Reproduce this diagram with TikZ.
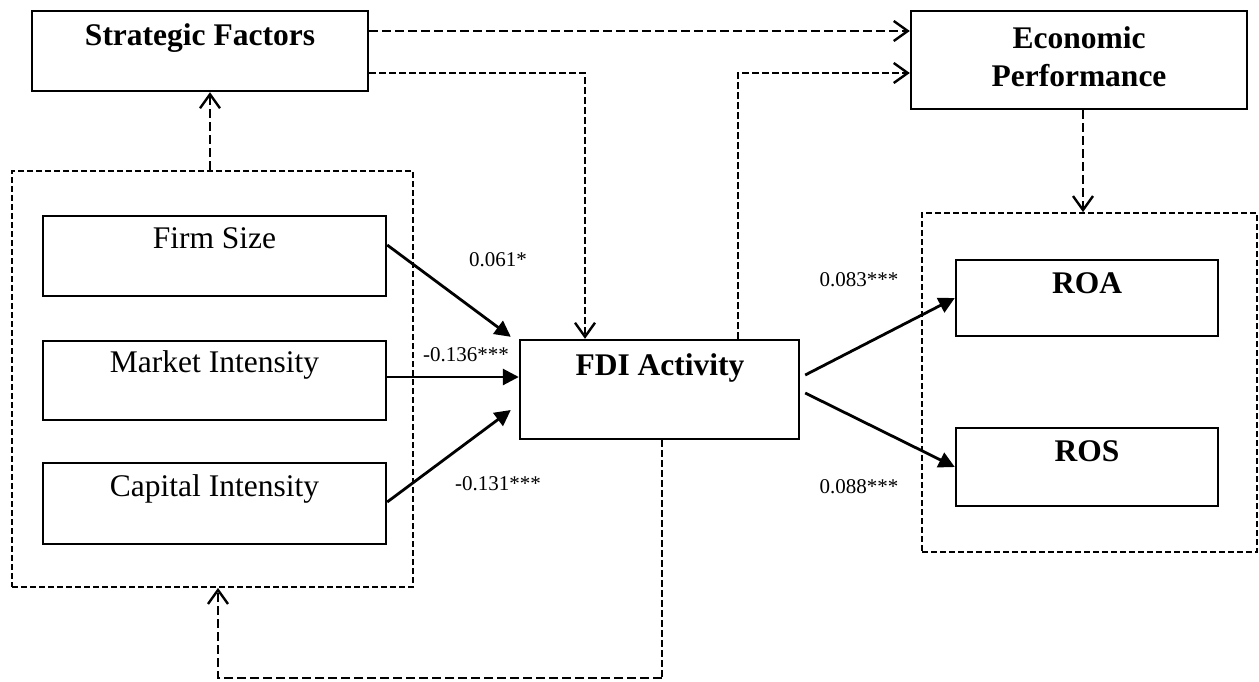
\documentclass[tikz,border=0pt]{standalone}
\usepackage{fontspec}
\setmainfont{Liberation Serif}
\usetikzlibrary{arrows.meta,calc}
\begin{document}
\begin{tikzpicture}[x=1pt,y=-1pt,
 box/.style={draw,line width=2.4pt,inner sep=0pt},
 grp/.style={draw,line width=1.8pt,dash pattern=on 6pt off 3pt,inner sep=0pt},
 txt/.style={font=\fontsize{31.5}{38}\selectfont,text height=0.66em,text depth=0pt,inner sep=0pt},
 btxt/.style={txt,font=\fontsize{31.5}{38}\selectfont\bfseries},
 lbl/.style={font=\fontsize{21}{24}\selectfont,inner sep=0pt,text height=0.66em,text depth=0pt},
 sarr/.style={line width=2.8pt,-{Triangle[length=16pt,width=16pt]}},
 darr/.style={line width=2.4pt,dash pattern=on 9pt off 4pt,-{Straight Barb[length=14pt,width=20pt,line width=2.4pt]}},
 tarr/.style={line width=1.9pt,dash pattern=on 7pt off 3pt,-{Straight Barb[length=14pt,width=20pt,line width=2.4pt]}},
 tline/.style={line width=1.9pt,dash pattern=on 7pt off 3pt},
]
\useasboundingbox (0,0) rectangle (1259,681);

% level coordinates
\coordinate (r31) at (0,31);
\coordinate (r73) at (0,73);
\coordinate (r377) at (0,377);
\coordinate (r678) at (0,678);
\coordinate (c210) at (210,0);
\coordinate (c218) at (218,0);
\coordinate (c585) at (585,0);
\coordinate (c662) at (662,0);
\coordinate (c738) at (738,0);
\coordinate (c1083) at (1083,0);

% group boxes
\node[grp,minimum width=401pt,minimum height=416pt] (lg) at (212.5,379) {};
\node[grp,minimum width=335pt,minimum height=339pt] (rg) at (1089.5,382.5) {};

% boxes
\node[box,minimum width=336pt,minimum height=80pt] (sf) at (200,51) {};
\node[box,minimum width=336pt,minimum height=98pt] (ep) at (1079,60) {};
\node[box,minimum width=279pt,minimum height=99pt] (fdi) at (659.5,389.5) {};
\node[box,minimum width=262pt,minimum height=76pt] (roa) at (1087,298) {};
\node[box,minimum width=262pt,minimum height=78pt] (ros) at (1087,467) {};
\node[box,minimum width=343pt,minimum height=80pt] (fs) at (214.5,256) {};
\node[box,minimum width=343pt,minimum height=79pt] (mi) at (214.5,380.5) {};
\node[box,minimum width=343pt,minimum height=81pt] (ci) at (214.5,503.5) {};

% texts
\node[btxt] (sft) at (200,42) {Strategic Factors};
\node[btxt] (ept1) at (1079,45) {Economic};
\node[btxt] (ept2) at (1079,83) {Performance};
\node[btxt] (fdit) at (660,372) {FDI Activity};
\node[btxt] (roat) at (1087,290) {ROA};
\node[btxt] (rost) at (1087,458) {ROS};
\node[txt] (fst) at (214.5,245) {Firm Size};
\node[txt] (mit) at (214.5,369) {Market Intensity};
\node[txt] (cit) at (214.5,493) {Capital Intensity};

% labels
\node[lbl] (l1) at (498,263) {0.061*};
\node[lbl] (l2) at (466,358) {-0.136***};
\node[lbl] (l3) at (498,487) {-0.131***};
\node[lbl] (l4) at (859,283) {0.083***};
\node[lbl] (l5) at (859,490) {0.088***};

% solid arrows
\draw[sarr] ([yshift=11pt]fs.east) -- ($(fdi.north west)+(-8,-2)$);
\draw[sarr] (mi.east |- r377) -- (fdi.west |- r377);
\draw[sarr] ([yshift=1.5pt]ci.east) -- ($(fdi.west)+(-8,20.5)$);
\draw[sarr] ($(fdi.east)+(5,-14.5)$) -- (roa.west);
\draw[sarr] ($(fdi.east)+(5,3.5)$) -- (ros.west);

% dashed arrows
\draw[darr] (sf.east |- r31) -- (ep.west |- r31);
\draw[tarr] (sf.east |- r73) -| (c585 |- fdi.north);
\draw[tarr] (c738 |- fdi.north) |- (ep.west |- r73);
\draw[darr] (ep.south -| c1083) -- (rg.north -| c1083);
\draw[darr] (lg.north -| c210) -- (sf.south -| c210);
\draw[tline] (fdi.south -| c662) -- (c662 |- r678);
\draw[darr] (c662 |- r678) -- (c218 |- r678) -- (lg.south -| c218);
\end{tikzpicture}
\end{document}
